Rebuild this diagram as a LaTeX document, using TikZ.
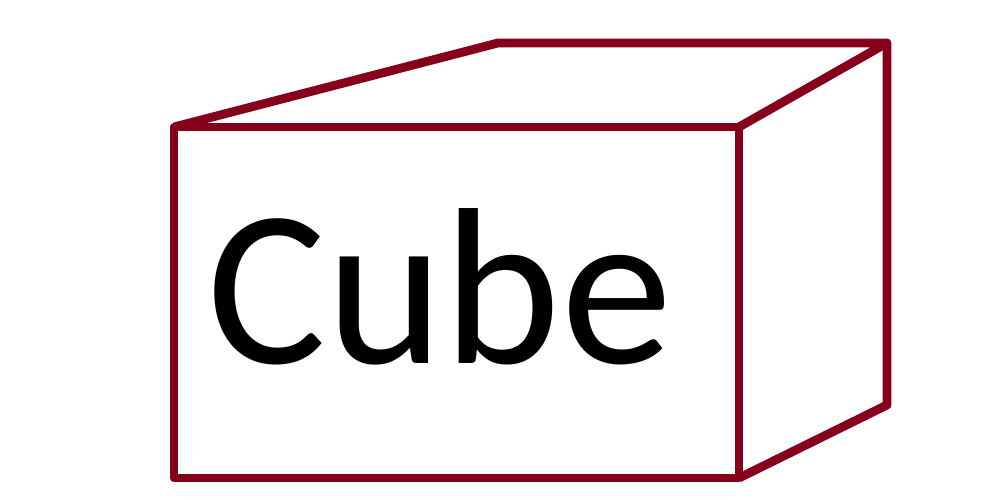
\documentclass[tikz,border=0pt]{standalone}
\usepackage{fontspec}
\setmainfont{Carlito}
\usepackage{xcolor}
\definecolor{edgered}{RGB}{134,0,27}

\begin{document}
\begin{tikzpicture}[
  edge/.style={draw=edgered, line width=2.5pt, line join=round},
  label/.style={font=\fontsize{63.5}{70}\selectfont, text=black, inner sep=0pt, anchor=base}
]
\useasboundingbox (0,0) rectangle (10,5);
% front face corners
\coordinate (fbl) at (1.74,0.22);
\coordinate (fbr) at (7.39,0.22);
\coordinate (ftl) at (1.74,3.73);
\coordinate (ftr) at (7.39,3.73);
% back corners
\coordinate (btl) at (4.98,4.57);
\coordinate (btr) at (8.87,4.57);
\coordinate (bbr) at (8.87,0.95);
\draw[edge] (fbl) -- (fbr) -- (ftr) -- (ftl) -- cycle;
\draw[edge] (ftl) -- (btl) -- (btr) -- (ftr);
\draw[edge] (btr) -- (bbr) -- (fbr);
\node[label] (name) at (4.40,1.36) {Cube};
\end{tikzpicture}
\end{document}
